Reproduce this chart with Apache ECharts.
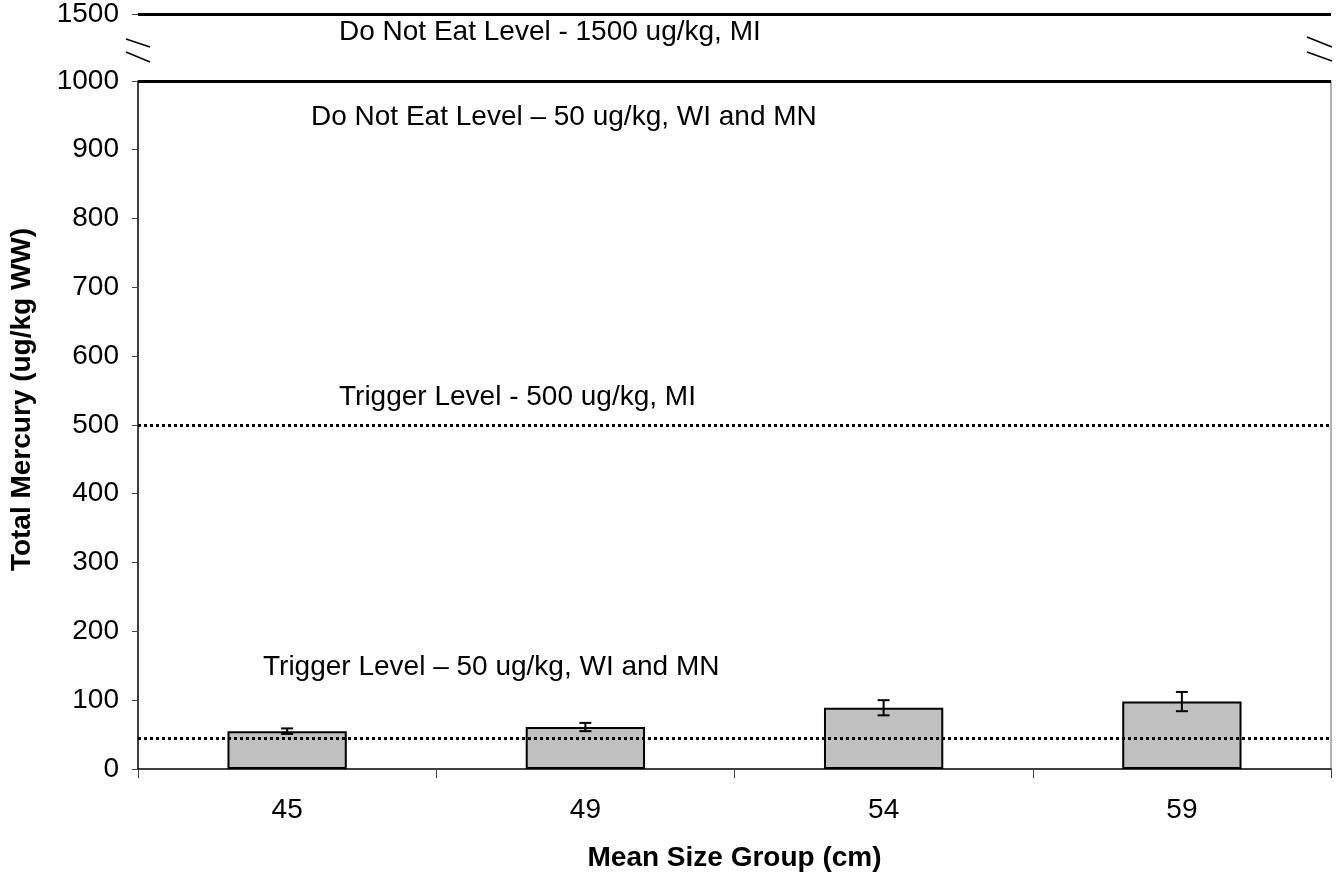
<!DOCTYPE html>
<html>
<head>
<meta charset="utf-8">
<script src="https://cdn.jsdelivr.net/npm/echarts@6.0.0/dist/echarts.min.js"></script>
<style>
html,body{margin:0;padding:0;background:#fff}
#main{width:1339px;height:877px}
</style>
</head>
<body>
<div id="main"></div>
<script>
// data
var sizeGroups = ['45', '49', '54', '59'];
var meanMercury = [55, 61, 89, 98];
var errMercury = [4, 6, 11, 14];
var levelValues = [1500, 1000, 500, 45];
var levelNames = [
  'Do Not Eat Level - 1500 ug/kg, MI',
  'Do Not Eat Level \u2013 50 ug/kg, WI and MN',
  'Trigger Level - 500 ug/kg, MI',
  'Trigger Level \u2013 50 ug/kg, WI and MN'
];
var levelDotted = [false, false, true, true];
// label placement: [along line, away from line], above or below
var levelLabelPos = ['insideStartBottom', 'insideStartBottom', 'insideStartTop', 'insideStartTop'];
var levelLabelDist = [[201, 4], [173, 22], [201, 14], [125, 57]];

var FONT = 'Liberation Sans, Arial, sans-serif';
var FS = 28;

var errData = meanMercury.map(function (m, i) {
  return [i, m - errMercury[i], m + errMercury[i]];
});

var markLines = levelValues.map(function (v, i) {
  return {
    yAxis: v,
    lineStyle: {
      color: '#000',
      width: 3,
      type: levelDotted[i] ? [3, 3] : 'solid'
    },
    label: {
      show: true,
      formatter: levelNames[i],
      position: levelLabelPos[i],
      distance: levelLabelDist[i],
      color: '#000',
      fontSize: FS,
      fontFamily: FONT
    }
  };
});

var mychart = echarts.init(document.getElementById('main'));
var option = {
  animation: false,
  grid: { left: 137, right: 8, top: 14, bottom: 106 },
  xAxis: {
    type: 'category',
    data: sizeGroups,
    axisLine: { lineStyle: { color: '#000', width: 1.5 } },
    axisTick: { show: true, length: 9, lineStyle: { color: '#444' } },
    axisLabel: { color: '#000', fontSize: FS, fontFamily: FONT, margin: 27 },
    name: 'Mean Size Group (cm)',
    nameLocation: 'middle',
    nameGap: 75,
    nameTextStyle: { color: '#000', fontSize: FS, fontWeight: 'bold', fontFamily: FONT }
  },
  yAxis: [{
    type: 'value',
    min: 0,
    max: 1500,
    interval: 100,
    breaks: [{ start: 1000, end: 1500, gap: '8.85%' }],
    breakArea: { show: false },
    axisLine: { show: true, lineStyle: { color: '#000', width: 1.5 } },
    axisTick: { show: true, length: 6, lineStyle: { color: '#444' } },
    axisLabel: {
      color: '#000', fontSize: FS, fontFamily: FONT, margin: 19,
      formatter: function (v) { return String(v); }
    },
    splitLine: { show: false },
    name: 'Total Mercury (ug/kg WW)',
    nameLocation: 'middle',
    nameGap: 102,
    nameTextStyle: { color: '#000', fontSize: FS, fontWeight: 'bold', fontFamily: FONT, padding: [0, 16, 0, 0] }
  }, {
    type: 'value',
    position: 'right',
    min: 0,
    max: 1500,
    interval: 100,
    breaks: [{ start: 1000, end: 1500, gap: '8.85%' }],
    breakArea: { show: false },
    axisLine: { show: true, lineStyle: { color: '#999', width: 1.5 } },
    axisTick: { show: false },
    axisLabel: { show: false },
    splitLine: { show: false }
  }],
  series: [{
    name: 'Total Mercury',
    type: 'bar',
    data: meanMercury,
    barWidth: '40%',
    itemStyle: { color: '#c0c0c0', borderColor: '#000', borderWidth: 2 },
    markLine: {
      silent: true,
      symbol: ['none', 'none'],
      data: markLines
    }
  }, {
    name: 'Error',
    type: 'custom',
    data: errData,
    z: 5,
    renderItem: function (params, api) {
      var x = api.value(0);
      var lo = api.coord([x, api.value(1)]);
      var hi = api.coord([x, api.value(2)]);
      var hw = 6;
      var st = { stroke: '#000', lineWidth: 2 };
      return {
        type: 'group',
        children: [
          { type: 'line', shape: { x1: lo[0], y1: lo[1], x2: hi[0], y2: hi[1] }, style: st },
          { type: 'line', shape: { x1: lo[0] - hw, y1: lo[1], x2: lo[0] + hw, y2: lo[1] }, style: st },
          { type: 'line', shape: { x1: hi[0] - hw, y1: hi[1], x2: hi[0] + hw, y2: hi[1] }, style: st }
        ]
      };
    }
  }],
  graphic: [
    // axis break marks
    { type: 'rect', shape: { x: 130, y: 18, width: 14, height: 46 }, style: { fill: '#fff' }, z: 100 },
    { type: 'rect', shape: { x: 1324, y: 29, width: 14, height: 34 }, style: { fill: '#fff' }, z: 100 },
    { type: 'line', shape: { x1: 126, y1: 39, x2: 150, y2: 47 }, style: { stroke: '#000', lineWidth: 1.5 }, z: 101 },
    { type: 'line', shape: { x1: 126, y1: 52, x2: 150, y2: 62 }, style: { stroke: '#000', lineWidth: 1.5 }, z: 101 },
    { type: 'line', shape: { x1: 1307, y1: 37, x2: 1332, y2: 47 }, style: { stroke: '#000', lineWidth: 1.5 }, z: 101 },
    { type: 'line', shape: { x1: 1307, y1: 52, x2: 1332, y2: 61 }, style: { stroke: '#000', lineWidth: 1.5 }, z: 101 }
  ]
};
mychart.setOption(option);
window.addEventListener('resize', function () {
  mychart.resize();
});
</script>
</body>
</html>
